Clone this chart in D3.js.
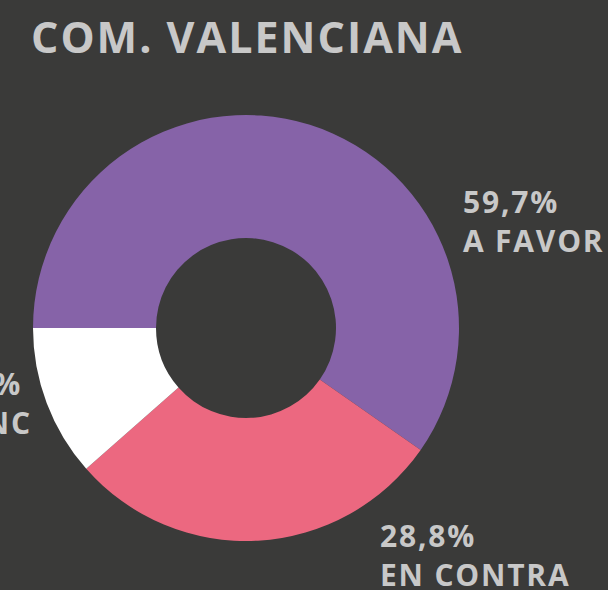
<!DOCTYPE html>
<html>
<head>
<meta charset="utf-8">
<title>COM. VALENCIANA</title>
<script src="https://cdn.jsdelivr.net/npm/d3@7"></script>
<style>
html, body { margin: 0; padding: 0; background: #3a3a39; }
svg { display: block; }
text { font-family: "Open Sans", Lato, sans-serif; font-weight: 700; fill: #c8c8c8; }
</style>
</head>
<body>
<div id="chart"></div>
<script>
// datos
const categories = ["A FAVOR", "EN CONTRA", "NS/NC"];
const values = [59.7, 28.8, 11.5];
const colors = ["#8663a8", "#ec6880", "#ffffff"];

const width = 608, height = 590;
const cx = 246, cy = 328, outerR = 213, innerR = 90;

// etiquetas colocadas a mano (x, baseline de la primera línea)
const labelPos = [[463, 213], [380, 547], [-74, 395]];

const svg = d3.select("#chart").append("svg").attr("width", width).attr("height", height);

svg.append("rect").attr("width", width).attr("height", height).attr("fill", "#3a3a39");

svg.append("text")
    .attr("x", 31).attr("y", 53)
    .attr("font-size", 43)
    .attr("letter-spacing", 2)
    .text("COM. VALENCIANA");

const pie = d3.pie().sort(null).startAngle(-Math.PI / 2).endAngle(Math.PI * 1.5);
const arc = d3.arc().innerRadius(innerR).outerRadius(outerR);

const g = svg.append("g").attr("transform", "translate(" + cx + "," + cy + ")");
g.selectAll("path").data(pie(values)).enter().append("path")
    .attr("d", arc)
    .attr("fill", (d, i) => colors[i]);

const fmt = v => d3.format(".1f")(v).replace(".", ",") + "%";

const labels = svg.selectAll(".lbl").data(values).enter().append("text")
    .attr("class", "lbl")
    .attr("font-size", 30)
    .attr("letter-spacing", 1.8)
    .attr("x", (d, i) => labelPos[i][0])
    .attr("y", (d, i) => labelPos[i][1]);
labels.append("tspan").text(d => fmt(d));
labels.append("tspan")
    .attr("x", (d, i) => labelPos[i][0])
    .attr("dy", 39)
    .text((d, i) => categories[i]);
</script>
</body>
</html>
